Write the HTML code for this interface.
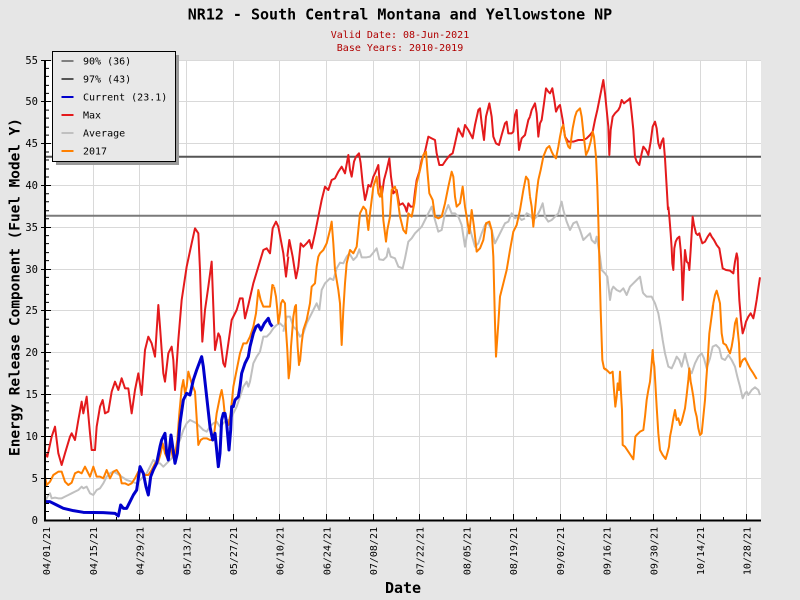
<!DOCTYPE html>
<html><head><meta charset="utf-8"><style>
html,body{margin:0;padding:0;background:#e6e6e6;}
svg{display:block;}
text{font-family:"DejaVu Sans Mono","Liberation Mono",monospace;}
</style></head><body>
<svg width="800" height="600" viewBox="0 0 800 600" xmlns="http://www.w3.org/2000/svg">
<rect x="0" y="0" width="800" height="600" fill="#e6e6e6"/>
<rect x="45" y="60" width="716" height="460" fill="#ffffff"/>
<!-- grid -->
<g stroke="#d9d9d9" stroke-width="1" fill="none">
<path d="M45 60.5H761M45 101.5H761M45 143.5H761M45 185.5H761M45 227.5H761M45 269.5H761M45 310.5H761M45 352.5H761M45 394.5H761M45 436.5H761M45 478.5H761"/>
<path d="M93.5 60V520M139.5 60V520M186.5 60V520M233.5 60V520M279.5 60V520M326.5 60V520M373.5 60V520M419.5 60V520M466.5 60V520M513.5 60V520M560.5 60V520M606.5 60V520M653.5 60V520M700.5 60V520M746.5 60V520"/>
</g>
<!-- thresholds -->
<line x1="45" y1="215.8" x2="761" y2="215.8" stroke="#7a7a7a" stroke-width="2"/>
<line x1="45" y1="156.8" x2="761" y2="156.8" stroke="#555555" stroke-width="2"/>

<!-- MAX -->
<g fill="none" stroke="#e41a1c" stroke-width="2" stroke-linejoin="round">
<polyline vector-effect="non-scaling-stroke" transform="translate(40,200) scale(0.33333)" points="15,760 22,770 35,710 45,680 55,760 65,795 75,760 90,710 95,700 105,720 115,660 125,605 130,640 140,590 150,700 155,750 165,750 170,680 180,620 188,600 195,640 205,635 215,575 225,545 235,570 245,535 255,565 265,565 275,640 285,570 295,520 305,585 315,450 325,410 335,430 345,470 355,315 360,380 370,520 375,545 385,460 395,440 400,480 405,570 415,420 425,300 440,200 455,130 465,85 475,100 480,210 487,425 495,330 505,260 515,185 520,320 525,450 535,400 540,410 550,490 555,500 565,430 575,360 590,330 600,295 608,295 615,355 625,315 640,250 655,200 670,150 680,145 690,160 698,85 708,65 715,80 730,160 738,230 745,170"/>
<polyline vector-effect="non-scaling-stroke" transform="translate(280,70) scale(0.33333)" points="22,560 28,510 38,560 48,625 55,590 62,520 70,530 80,520 88,510 95,535 105,490 115,440 125,390 135,350 145,360 155,330 165,325 175,305 185,290 195,310 205,255 210,300 215,320 222,275 228,260 237,250 242,280 248,340 255,390 260,370 265,345 272,350 280,320 285,310 295,285 300,350 305,380 312,330 320,300 328,265 333,320 340,370 350,360 358,405 368,400 375,410 380,425 385,400 392,410 400,410 405,365 410,330 418,305 425,270 435,245 445,200 455,205 465,210 470,250 478,285 488,285 498,270 510,255 518,250 525,220 535,175 540,185 548,200 555,165 565,180 578,205 585,165 595,120 600,115 605,160 612,210 618,140 628,100 635,140 640,200 648,220 657,225 665,195 675,160 680,155 685,190 695,190 700,185 705,135 710,120 717,240 725,205 735,195 745,150 750,140"/>
<polyline vector-effect="non-scaling-stroke" transform="translate(520,70) scale(0.33333)" points="30,140 35,120 45,100 50,130 55,200 60,160 65,150 72,100 78,55 85,65 90,70 97,55 103,90 108,125 115,110 120,105 128,150 135,200 145,215 160,215 175,210 190,210 200,205 210,195 218,185 225,150 232,120 240,80 245,55 250,30 255,70 260,120 265,170 268,255 272,180 278,140 285,130 295,120 300,110 305,90 312,100 318,95 325,90 330,85 335,130 340,180 345,260 350,275 358,285 365,250 370,230 378,240 385,255 392,215 398,170 405,155 410,175 415,220 420,235 425,215 430,205 435,265 440,350 444,420"/>
<polyline vector-effect="non-scaling-stroke" transform="translate(640,200) scale(0.33333)" points="85,20 88,50 92,100 95,145 97,190 100,210 103,145 107,125 112,115 118,110 122,150 125,200 128,300 131,230 135,150 140,185 145,190 148,210 152,150 155,100 158,50 162,75 168,100 173,105 178,100 182,115 187,130 195,125 203,110 210,100 215,110 222,120 230,135 238,145 243,175 248,205 258,210 270,212 280,220 285,185 290,160 293,175 295,240 298,300 303,360 308,400 313,385 318,365 325,350 332,340 340,355 345,330 350,300 355,265 360,232"/>
</g>

<!-- AVERAGE -->
<g fill="none" stroke="#c0c0c0" stroke-width="2" stroke-linejoin="round">
<polyline vector-effect="non-scaling-stroke" transform="translate(40,200) scale(0.33333)" points="15,905 25,885 30,880 35,895 45,893 55,895 65,895 75,890 85,885 95,880 105,875 115,870 125,860 130,865 140,860 150,880 160,885 170,870 180,865 190,850 200,830 210,820 220,815 230,820 245,830 260,840 275,845 290,850 300,840 310,830 320,820 330,800 340,780 350,790 360,790 370,800 380,790 390,780 400,770 410,740 420,720 430,690 440,670 450,660 460,665 470,670 480,680 490,690 500,695 510,680 520,670 530,665 540,680 550,670 560,660 570,660 580,640 590,620 600,590 610,560 620,545 625,560 630,545 640,490 650,470 660,455 670,410 680,410 690,400 700,385 710,375 720,370 730,380"/>
<polyline vector-effect="non-scaling-stroke" transform="translate(280,70) scale(0.33333)" points="10,785 20,740 30,740 40,770 50,780 60,800 70,790 80,760 90,740 100,720 110,700 118,720 125,660 135,640 150,625 160,630 170,595 180,578 190,580 200,560 208,550 220,570 230,560 238,538 245,562 260,562 270,560 280,548 290,535 298,568 310,570 320,560 325,535 332,560 345,565 355,590 368,595 375,565 385,515 395,505 405,490 415,480 425,470 435,450 445,430 455,410 465,450 475,485 485,480 495,430 505,405 515,430 525,430 535,440 545,465 555,530 560,500 568,470 575,495 585,530 595,520 605,490 615,465 625,460 635,480 645,520 655,500 665,480 675,460 685,455 695,430 705,445 715,440 725,450 735,445"/>
<polyline vector-effect="non-scaling-stroke" transform="translate(520,70) scale(0.33333)" points="15,440 20,430 30,435 40,450 50,440 60,420 68,400 75,440 85,455 95,450 105,440 115,430 125,395 130,420 140,455 150,480 160,460 170,455 180,480 190,510 200,500 210,490 215,510 225,520 230,500 235,530 240,560 245,600 255,610 262,620 270,690 275,660 280,650 290,660 300,665 310,655 320,675 330,650 340,640 350,630 360,620 368,665"/>
<polyline vector-effect="non-scaling-stroke" transform="translate(640,200) scale(0.33333)" points="8,275 10,280 20,290 35,290 45,310 55,340 62,380 68,420 75,460 85,500 95,505 102,490 110,470 118,480 125,500 130,480 135,460 140,480 148,510 155,520 160,505 165,490 175,470 185,460 192,475 200,505 210,475 218,440 228,435 238,445 245,475 255,480 265,465 275,480 285,500 292,530 300,560 308,595 315,580 320,575 325,585 335,570 345,562 355,570 360,585"/>
</g>

<!-- 2017 -->
<g fill="none" stroke="#ff8000" stroke-width="2" stroke-linejoin="round">
<polyline vector-effect="non-scaling-stroke" transform="translate(40,200) scale(0.33333)" points="15,830 20,855 30,845 40,825 55,815 65,815 75,845 85,855 95,848 105,820 115,815 125,820 135,800 140,810 150,830 160,800 170,830 180,830 190,835 200,810 210,835 220,815 230,810 240,825 245,850 255,850 265,855 275,850 285,835 295,815 305,815 315,825 325,825 335,810 345,790 355,785 362,760 368,730 375,760 382,775 390,730 398,770 405,765 412,720 418,640 425,565 430,540 435,580 440,560 445,515 455,550 465,575 475,735 482,720 490,715 500,715 510,720 520,720 530,640 540,590 545,570 550,600 555,650 565,675 572,640 580,560 590,510 600,460 610,430 620,430 630,410 640,380 648,340 655,270 662,300 670,320 680,320 690,320 697,255 702,258"/>
<polyline vector-effect="non-scaling-stroke" transform="translate(260,280) scale(0.33333)" points="42,20 48,50 52,90 55,130 60,100 63,70 68,60 75,70 78,150 82,210 86,295 90,265 93,200 97,150 100,110 105,80 108,75 110,140 113,200 117,255 120,235"/>
<polyline vector-effect="non-scaling-stroke" transform="translate(280,70) scale(0.33333)" points="60,875 65,820 70,780 80,750 90,700 95,650 105,640 110,590 115,560 120,550 130,540 140,520 150,480 155,455 160,520 165,600 175,660 180,700 185,825 190,720 195,640 200,580 210,540 220,550 230,530 240,430 250,410 258,420 265,480 270,430 280,350 290,320 295,370 300,380 305,350 310,450 318,515 322,480 330,440 335,360 345,350 352,380 360,440 370,480 378,490 385,430 395,440 403,400 410,340 420,300 430,255 438,245 442,300 448,370 458,390 465,440 475,445 485,440 495,400 505,350 515,305 520,320 525,380 530,410 540,400 548,350 555,410 560,440 568,490 575,420 582,470 590,545 600,535 610,510 618,460 628,455 635,480 640,560 645,760 648,860 655,760 660,680 670,640 680,600 690,540 700,485 710,465 720,420 730,360 738,320 745,330 750,380"/>
<polyline vector-effect="non-scaling-stroke" transform="translate(520,70) scale(0.33333)" points="30,380 35,410 40,470 45,420 50,370 55,330 62,300 70,260 80,235 88,228 95,245 100,255 108,265 115,230 120,200 125,175 130,165 135,200 140,215 145,230 150,235 158,175 165,140 170,125 180,115 185,140 192,205 198,255 205,240 212,215 218,185 222,200 228,260 232,350 235,450 238,570 242,720 247,870 252,895 258,900"/>
<polyline vector-effect="non-scaling-stroke" transform="translate(520,300) scale(0.33333)" points="254,205 260,210 270,220 278,215 282,270 286,320 290,290 293,250 297,270 300,215 303,280 306,330 308,435 315,440 325,455 335,470 340,478 343,445 346,410 350,405 360,395 370,390 375,350 380,300 385,270 390,245 395,190 398,150 400,180 403,200 406,250 410,320 415,400 420,450 428,465 437,477 442,460 447,440 450,410 455,385 460,355 465,330 470,360 475,355 480,375 485,365 490,345 495,325 500,285 505,240 508,205 512,245 515,260 520,290 525,330 530,350 535,385 540,405 545,400 550,350 555,300 558,250 562,195 565,150 568,100 572,70 576,40 579,15"/>
<polyline vector-effect="non-scaling-stroke" transform="translate(640,200) scale(0.33333)" points="218,330 220,310 225,285 230,272 235,290 240,310 245,400 250,430 258,435 265,450 270,460 275,440 280,410 285,370 290,355 293,390 297,430 300,500 303,490 308,480 315,475 320,485 330,505 340,520 350,537"/>
</g>

<!-- CURRENT -->
<g fill="none" stroke="#0000cc" stroke-width="3" stroke-linejoin="round">
<polyline vector-effect="non-scaling-stroke" transform="translate(40,200) scale(0.33333)" points="15,905 30,905 50,915 70,925 100,932 130,937 190,938 225,940 235,948 242,915 250,925 260,925 270,905 280,885 290,870 300,800 310,820 318,860 325,885 332,830 340,810 350,790 360,740 365,720 375,700 380,760 385,780 393,705 398,740 405,790 412,760 420,670 430,600 440,580 450,585 460,540 470,510 485,470 490,500 500,590 510,680 518,720 525,700 530,750 535,800 540,760 545,660 550,640 555,640 560,670 567,750 572,690 575,620 580,620 585,600 595,590 600,560 605,520 615,490 625,470 630,440 640,400 648,380 655,375 663,390 673,370 685,355 690,370 697,380"/>
</g>

<!-- axes -->
<g stroke="#000" fill="none">
<line x1="45" y1="60" x2="45" y2="521" stroke-width="2"/>
<line x1="44" y1="520.5" x2="761" y2="520.5" stroke-width="2"/>
<path stroke-width="1" d="M41 60.5H51M41 101.5H51M41 143.5H51M41 185.5H51M41 227.5H51M41 269.5H51M41 310.5H51M41 352.5H51M41 394.5H51M41 436.5H51M41 478.5H51"/>
<g id="ym" stroke-width="1"><path d="M46 511.5h3M46 503.5h3M46 494.5h3M46 486.5h3"/></g>
<use href="#ym" transform="translate(0,-41.82)"/>
<use href="#ym" transform="translate(0,-83.64)"/>
<use href="#ym" transform="translate(0,-125.45)"/>
<use href="#ym" transform="translate(0,-167.27)"/>
<use href="#ym" transform="translate(0,-209.09)"/>
<use href="#ym" transform="translate(0,-250.91)"/>
<use href="#ym" transform="translate(0,-292.73)"/>
<use href="#ym" transform="translate(0,-334.55)"/>
<use href="#ym" transform="translate(0,-376.36)"/>
<use href="#ym" transform="translate(0,-418.18)"/>
<path stroke-width="1" d="M93.5 514V521M139.5 514V521M186.5 514V521M233.5 514V521M279.5 514V521M326.5 514V521M373.5 514V521M419.5 514V521M466.5 514V521M513.5 514V521M560.5 514V521M606.5 514V521M653.5 514V521M700.5 514V521M746.5 514V521"/>
<path stroke-width="1" d="M69.5 517V521M116.5 517V521M163.5 517V521M209.5 517V521M256.5 517V521M303.5 517V521M349.5 517V521M396.5 517V521M443.5 517V521M490.5 517V521M536.5 517V521M583.5 517V521M630.5 517V521M676.5 517V521M723.5 517V521"/>
</g>

<!-- y tick labels -->
<g font-size="10.5" fill="#000" text-anchor="end">
<text x="38" y="524">0</text>
<text x="38" y="482">5</text>
<text x="38" y="440">10</text>
<text x="38" y="398">15</text>
<text x="38" y="356">20</text>
<text x="38" y="314">25</text>
<text x="38" y="273">30</text>
<text x="38" y="231">35</text>
<text x="38" y="189">40</text>
<text x="38" y="147">45</text>
<text x="38" y="105">50</text>
<text x="38" y="64">55</text>
</g>

<!-- x tick labels -->
<g font-size="10" fill="#000" text-anchor="end">
<text transform="translate(50,527) rotate(-90)">04/01/21</text>
<text transform="translate(97,527) rotate(-90)">04/15/21</text>
<text transform="translate(143.5,527) rotate(-90)">04/29/21</text>
<text transform="translate(190.5,527) rotate(-90)">05/13/21</text>
<text transform="translate(237,527) rotate(-90)">05/27/21</text>
<text transform="translate(283.5,527) rotate(-90)">06/10/21</text>
<text transform="translate(330.5,527) rotate(-90)">06/24/21</text>
<text transform="translate(377,527) rotate(-90)">07/08/21</text>
<text transform="translate(423.5,527) rotate(-90)">07/22/21</text>
<text transform="translate(470.5,527) rotate(-90)">08/05/21</text>
<text transform="translate(517,527) rotate(-90)">08/19/21</text>
<text transform="translate(564,527) rotate(-90)">09/02/21</text>
<text transform="translate(610.5,527) rotate(-90)">09/16/21</text>
<text transform="translate(657.5,527) rotate(-90)">09/30/21</text>
<text transform="translate(704,527) rotate(-90)">10/14/21</text>
<text transform="translate(750.5,527) rotate(-90)">10/28/21</text>
</g>

<!-- titles -->
<text x="400" y="19.5" font-size="15" font-weight="bold" text-anchor="middle" fill="#000">NR12 - South Central Montana and Yellowstone NP</text>
<text x="400" y="38" font-size="10" text-anchor="middle" fill="#b00000">Valid Date: 08-Jun-2021</text>
<text x="400" y="51" font-size="10" text-anchor="middle" fill="#b00000">Base Years: 2010-2019</text>
<text x="403" y="593" font-size="15" font-weight="bold" text-anchor="middle" fill="#000">Date</text>
<text transform="translate(19.5,287) rotate(-90)" font-size="14.4" font-weight="bold" text-anchor="middle" fill="#000">Energy Release Component (Fuel Model Y)</text>

<!-- legend -->
<rect x="56" y="55" width="123" height="110" fill="#9a9a9a"/>
<rect x="52.5" y="51.5" width="123" height="110" fill="#e8e8e8" stroke="#000" stroke-width="1"/>
<g stroke-width="2">
<line x1="61.5" y1="61" x2="73.5" y2="61" stroke="#808080"/>
<line x1="61.5" y1="79" x2="73.5" y2="79" stroke="#555555"/>
<line x1="61.5" y1="97" x2="73.5" y2="97" stroke="#0000cc"/>
<line x1="61.5" y1="115" x2="73.5" y2="115" stroke="#e41a1c"/>
<line x1="61.5" y1="133" x2="73.5" y2="133" stroke="#c0c0c0"/>
<line x1="61.5" y1="151" x2="73.5" y2="151" stroke="#ff8000"/>
</g>
<g font-size="10" fill="#000">
<text x="83" y="64.5">90% (36)</text>
<text x="83" y="82.5">97% (43)</text>
<text x="83" y="100.5">Current (23.1)</text>
<text x="83" y="118.5">Max</text>
<text x="83" y="136.5">Average</text>
<text x="83" y="154.5">2017</text>
</g>
</svg>
</body></html>
